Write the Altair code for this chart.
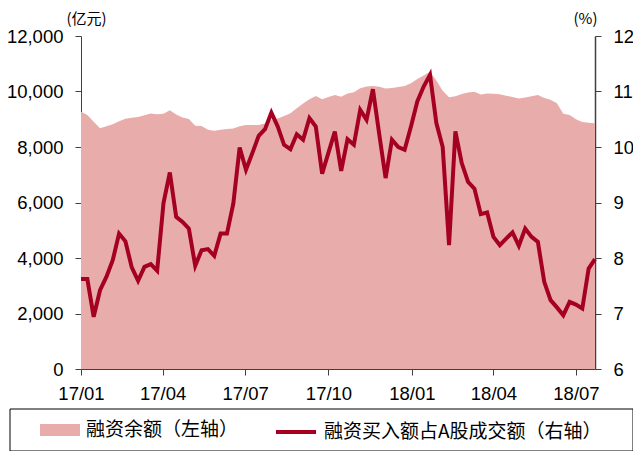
import altair as alt
import pandas as pd

# ---- data ----
week_start = "2017-01-01"
n_weeks = 82

# 融资余额 (亿元), left axis
margin_balance = [
    9272, 9153, 8910, 8680, 8750, 8820, 8930, 9020, 9050, 9080,
    9140, 9210, 9180, 9200, 9320, 9170, 9060, 9010, 8770, 8757,
    8620, 8590, 8620, 8650, 8670, 8750, 8790, 8790, 8795, 8850,
    8990, 9030, 9120, 9220, 9400, 9570, 9720, 9840, 9720, 9800,
    9870, 9815, 9925, 9970, 10120, 10180, 10198, 10175, 10110, 10130,
    10160, 10200, 10300, 10450, 10580, 10714, 10400, 10030, 9790, 9830,
    9910, 9960, 9994, 9890, 9930, 9920, 9898, 9850, 9800, 9745,
    9785, 9830, 9874, 9770, 9700, 9580, 9200, 9155, 9000, 8900,
    8870, 8853,
]

# 融资买入额占A股成交额 (%), right axis
buy_share = [
    7.62, 7.62, 6.94, 7.42, 7.66, 7.96, 8.44, 8.30, 7.83, 7.59,
    7.84, 7.89, 7.77, 8.99, 9.54, 8.74, 8.65, 8.53, 7.86, 8.14,
    8.16, 8.04, 8.44, 8.44, 8.98, 9.99, 9.59, 9.89, 10.20, 10.32,
    10.62, 10.37, 10.04, 9.96, 10.23, 10.13, 10.52, 10.37, 9.52, 9.90,
    10.28, 9.57, 10.14, 10.04, 10.67, 10.49, 11.04, 10.23, 9.44, 10.13,
    10.00, 9.95, 10.37, 10.82, 11.09, 11.30, 10.43, 10.00, 8.23, 10.28,
    9.71, 9.37, 9.25, 8.79, 8.82, 8.38, 8.23, 8.35, 8.46, 8.22,
    8.53, 8.38, 8.29, 7.57, 7.24, 7.11, 6.97, 7.21, 7.16, 7.09,
    7.81, 7.98,
]

series_names = ["融资余额（左轴）", "融资买入额占A股成交额（右轴）"]
left_ticks = [0, 2000, 4000, 6000, 8000, 10000, 12000]
right_ticks = [6, 7, 8, 9, 10, 11, 12]
quarter_ticks = [(2017, 1), (2017, 4), (2017, 7), (2017, 10), (2018, 1), (2018, 4), (2018, 7)]

dates = pd.date_range(week_start, periods=n_weeks, freq="7D")
df = pd.DataFrame({
    "date": dates,
    "balance": margin_balance,
    "share": buy_share,
    "s1": series_names[0],
    "s2": series_names[1],
})

NUM_FONT = "Liberation Sans Narrow, Arial Narrow, Liberation Sans, Arial"
CJK_FONT = "Noto Sans CJK SC"
AREA_COLOR = "#e8adab"
LINE_COLOR = "#a50021"
AXIS_COLOR = "#404040"
NUM_SIZE = 18.5

x_enc = alt.X(
    "date:T",
    scale=alt.Scale(domain=[alt.DateTime(year=2017, month=1, date=1),
                            alt.DateTime(year=2018, month=7, date=22)]),
    axis=alt.Axis(
        values=[alt.DateTime(year=y, month=m, date=1) for y, m in quarter_ticks],
        format="%y/%m", title=None, labelPadding=9, labelFontSize=NUM_SIZE,
        labelFont=NUM_FONT, labelColor="black", tickSize=6, grid=False,
        labelFlush=False, labelOverlap=False,
        domainColor=AXIS_COLOR, tickColor=AXIS_COLOR,
    ),
)

area = alt.Chart(df).mark_area(opacity=1).encode(
    x=x_enc,
    y=alt.Y(
        "balance:Q",
        scale=alt.Scale(domain=[0, 12000]),
        axis=alt.Axis(
            orient="left", values=left_ticks, format=",d", grid=False,
            title="(亿元)", titleAngle=0, titleX=5, titleY=-18,
            titleAlign="center", titleBaseline="middle",
            titleFont=CJK_FONT, titleFontSize=15, titleFontWeight="normal",
            titleColor="black",
            labelFont=NUM_FONT, labelFontSize=NUM_SIZE, labelColor="black",
            labelPadding=12, tickSize=6,
            domainColor=AXIS_COLOR, tickColor=AXIS_COLOR,
        ),
    ),
    fill=alt.Fill(
        "s1:N",
        scale=alt.Scale(domain=[series_names[0]], range=[AREA_COLOR]),
        legend=alt.Legend(
            orient="none", legendX=-41, legendY=374, title=None,
            symbolType="M-1,-0.3H1V0.3H-1Z", symbolSize=1600,
            symbolStrokeWidth=0, symbolOpacity=1,
            labelFont=CJK_FONT, labelFontSize=19, labelColor="black",
            labelOffset=6, labelLimit=400,
        ),
    ),
)

line = alt.Chart(df).mark_line(strokeWidth=4).encode(
    x=x_enc,
    y=alt.Y(
        "share:Q",
        scale=alt.Scale(domain=[6, 12]),
        axis=alt.Axis(
            orient="right", values=right_ticks, grid=False,
            title="(%)", titleAngle=0, titleX=-10, titleY=-18,
            titleAlign="center", titleBaseline="middle",
            titleFont=CJK_FONT, titleFontSize=15, titleFontWeight="normal",
            titleColor="black",
            labelFont=NUM_FONT, labelFontSize=NUM_SIZE, labelColor="black",
            labelPadding=12, tickSize=6, domainWidth=1.5,
            domainColor=AXIS_COLOR, tickColor=AXIS_COLOR,
        ),
    ),
    stroke=alt.Stroke(
        "s2:N",
        scale=alt.Scale(domain=[series_names[1]], range=[LINE_COLOR]),
        legend=alt.Legend(
            orient="none", legendX=193, legendY=374, title=None,
            symbolType="stroke", symbolSize=1600, symbolStrokeWidth=4,
            labelFont=CJK_FONT, labelFontSize=19, labelColor="black",
            labelOffset=6, labelLimit=400,
        ),
    ),
)

legend_box = alt.Chart(pd.DataFrame({"k": [0]})).mark_rect(
    fill=None, stroke="black", strokeWidth=1
).encode(
    x=alt.value(-71), x2=alt.value(552), y=alt.value(373), y2=alt.value(415)
)

chart = alt.layer(area, line, legend_box).resolve_scale(
    y="independent"
).properties(
    width=514, height=333,
    autosize=alt.AutoSizeParams(type="none"),
    padding={"left": 73, "top": 28, "right": 38, "bottom": 82},
).configure_view(stroke=None)

chart.save("out.html", embed_options={"renderer": "svg", "actions": False})
